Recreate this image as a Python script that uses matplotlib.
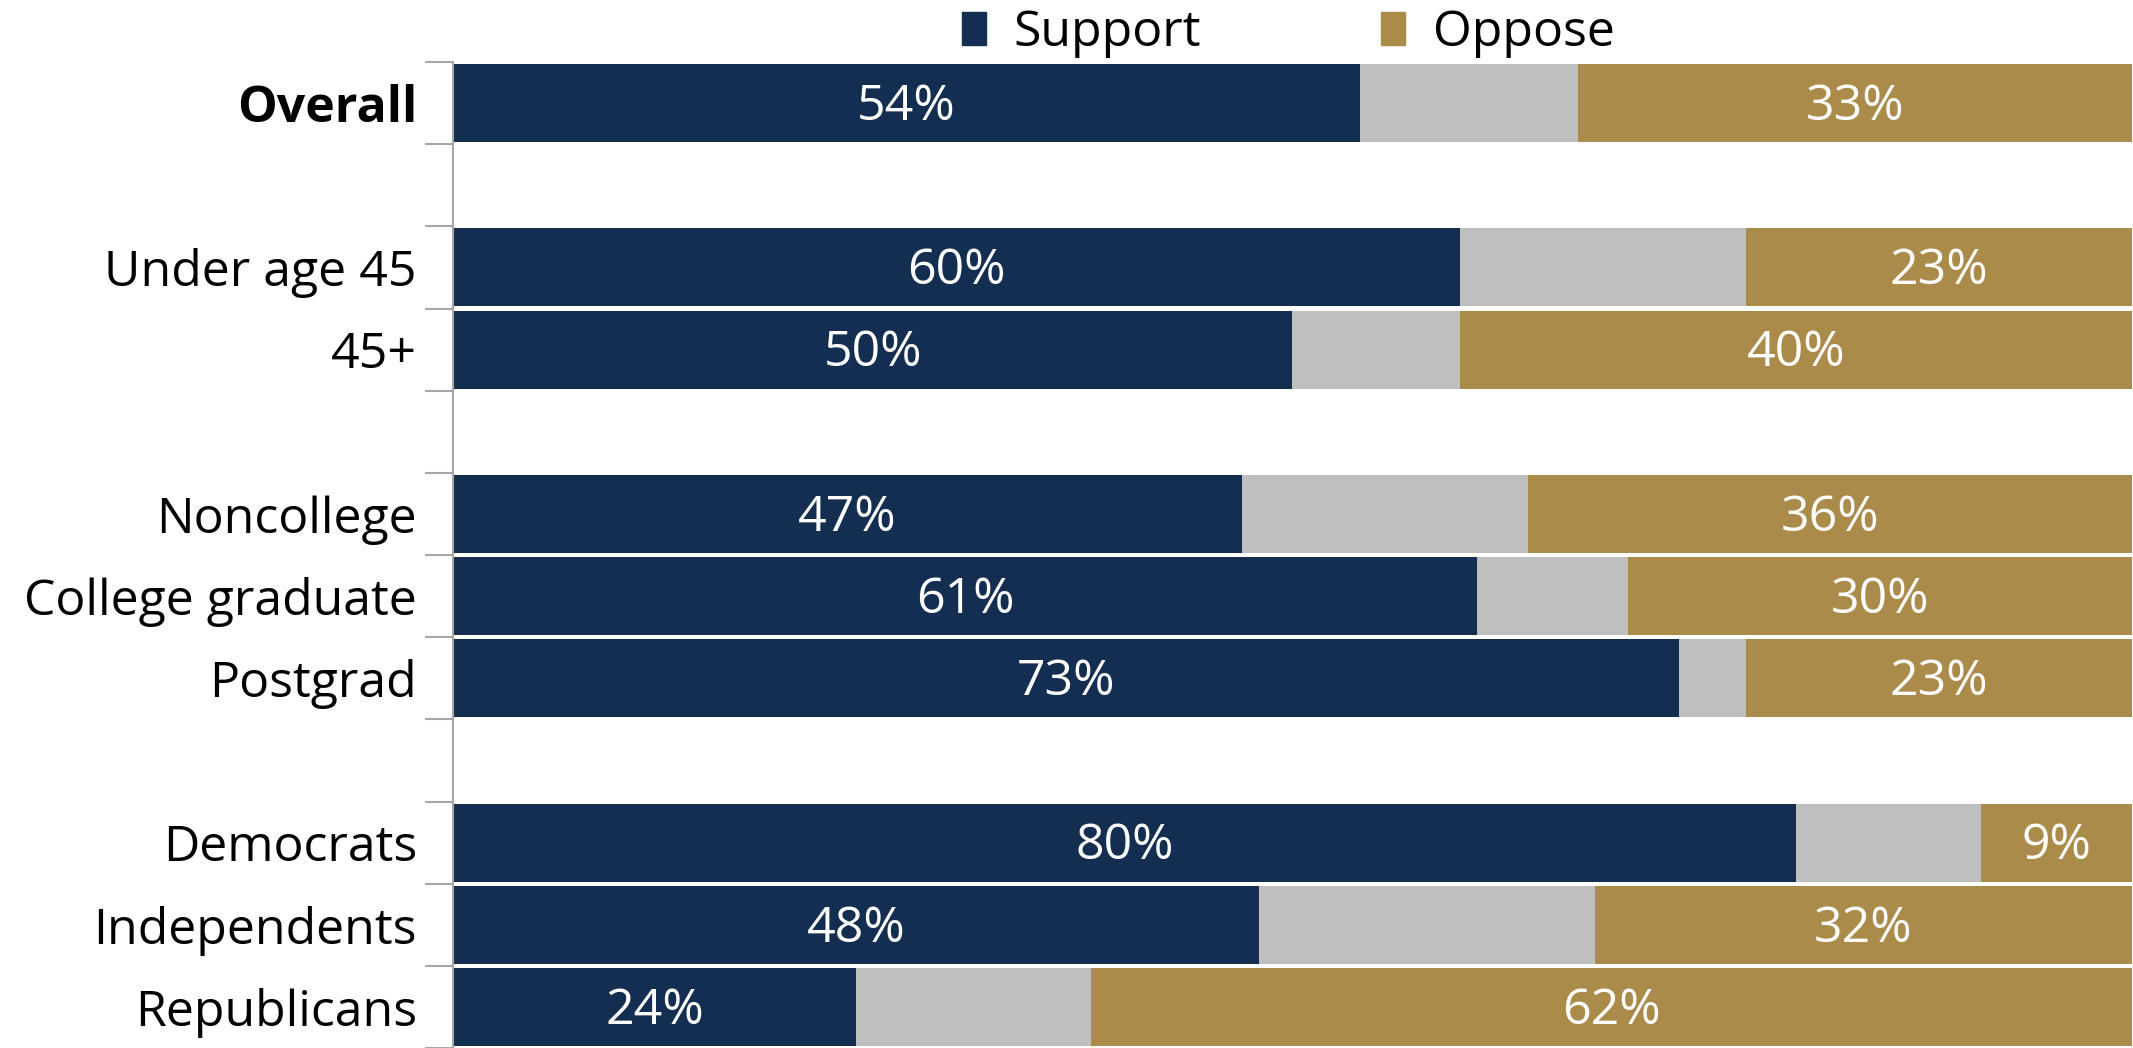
import matplotlib.pyplot as plt
from matplotlib.patches import Patch

plt.rcParams['font.family'] = ['Open Sans', 'DejaVu Sans']

# dados (em %), com linhas vazias separando os grupos
groups = ['Overall', '', 'Under age 45', '45+', '', 'Noncollege', 'College graduate',
          'Postgrad', '', 'Democrats', 'Independents', 'Republicans']
support = [54, 0, 60, 50, 0, 47, 61, 73, 0, 80, 48, 24]
unsure = [13, 0, 17, 10, 0, 17, 9, 4, 0, 11, 20, 14]
oppose = [33, 0, 23, 40, 0, 36, 30, 23, 0, 9, 32, 62]

navy = '#142E52'
grey = '#BFBFBF'
gold = '#AB8B4A'

fig = plt.figure(figsize=(21.33, 10.48), dpi=100)
ax = fig.add_axes([0.2124, 0.0, 0.7871, 0.9408])

ypos = list(range(len(groups)))
h = 0.95
left2 = [s + u for s, u in zip(support, unsure)]
ax.barh(ypos, support, height=h, color=navy, linewidth=0)
ax.barh(ypos, unsure, left=support, height=h, color=grey, linewidth=0)
ax.barh(ypos, oppose, left=left2, height=h, color=gold, linewidth=0)

# rótulos de percentual
for i in ypos:
    if support[i] > 0:
        ax.text(support[i] / 2, i + 0.05, f'{support[i]}%', ha='center', va='center',
                color='white', fontsize=36)
    if oppose[i] > 0:
        ax.text(left2[i] + oppose[i] / 2, i + 0.05, f'{oppose[i]}%', ha='center', va='center',
                color='white', fontsize=36)

ax.set_xlim(0, 100)
ax.set_ylim(len(groups) - 0.5, -0.5)
ax.set_xticks([])

ax.set_yticks([i - 0.5 for i in range(len(groups) + 1)])
ax.set_yticklabels([])
ax.set_yticks(ypos, minor=True)
ax.set_yticklabels(groups, minor=True, fontsize=36)
ax.tick_params(axis='y', which='major', length=20, color='#A6A6A6', width=1.5)
ax.tick_params(axis='y', which='minor', length=0, pad=26)
for lab in ax.get_yticklabels(minor=True):
    if lab.get_text() == 'Overall':
        lab.set_fontweight('bold')

for s in ['top', 'right', 'bottom']:
    ax.spines[s].set_visible(False)
ax.spines['left'].set_color('#A6A6A6')
ax.spines['left'].set_linewidth(1.5)

handles = [Patch(color=navy, label='Support'), Patch(color=gold, label='Oppose')]
fig.legend(handles=handles, loc='upper center', bbox_to_anchor=(0.604, 1.035), ncol=2,
           frameon=False, fontsize=36, handlelength=0.48, handleheight=0.64,
           handletextpad=0.55, columnspacing=3.6)

fig.savefig('out.png', dpi=100)
